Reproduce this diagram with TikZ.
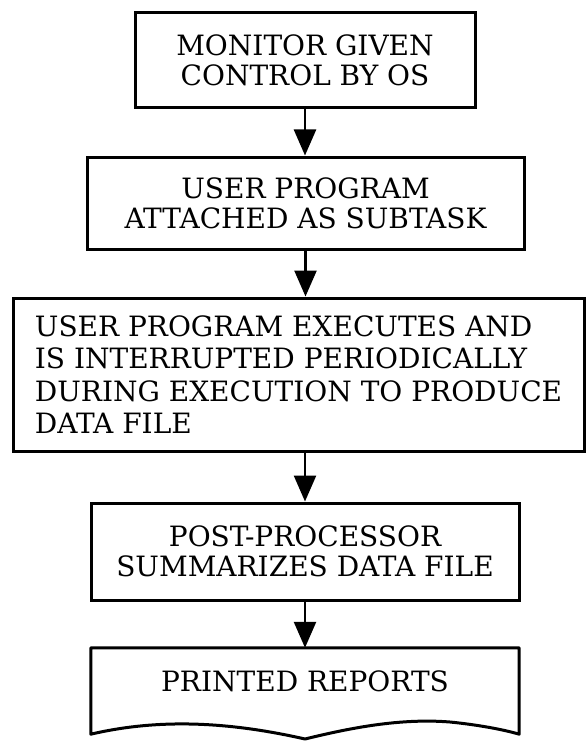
\documentclass[tikz,border=0pt]{standalone}
\usepackage{fontspec}
\setmainfont{DejaVu Serif}
\usetikzlibrary{arrows.meta}
\begin{document}
\begin{tikzpicture}[x=1pt,y=-1pt,
  txt/.style={font=\fontsize{28}{30}\selectfont},
  box/.style={draw, line width=3pt, inner sep=0pt, align=center, txt},
  arr/.style={line width=2.5pt, -{Triangle[length=26pt,width=22pt]}}]
\useasboundingbox (0,0) rectangle (586,741);
\node[box, minimum width=340pt, minimum height=95pt] (b1) at (305,60.5) {MONITOR GIVEN\\CONTROL BY OS};
\node[box, minimum width=437pt, minimum height=92pt] (b2) at (305.5,203) {USER PROGRAM\\ATTACHED AS SUBTASK};
\node[box, align=left, minimum width=571pt, minimum height=153pt, font=\fontsize{28}{32.5}\selectfont] (b3) at (298.5,374.5) {USER PROGRAM EXECUTES AND\\IS INTERRUPTED PERIODICALLY\\DURING EXECUTION TO PRODUCE\\DATA FILE};
\node[box, minimum width=428pt, minimum height=97pt] (b4) at (305,551.5) {POST-PROCESSOR\\SUMMARIZES DATA FILE};
\node[minimum width=428pt, minimum height=86pt, inner sep=0pt] (d) at (305,691) {};
\node[txt] (dt) at (305,681) {PRINTED REPORTS};
\draw[line width=3pt, line join=round] (d.south west) -- (d.north west) -- (d.north east) -- (d.south east)
  .. controls (505,730) and (480,725) .. (450,722)
  .. controls (400,718) and (350,728) .. (305,739)
  .. controls (230,722) and (160,718) .. (d.south west) -- cycle;
\draw[arr] (b1.south) -- (b1.south |- b2.north);
\draw[arr] (b2.south) -- (b2.south |- b3.north);
\draw[arr] (b3.south -| b4.north) -- (b4.north);
\draw[arr] (b4.south) -- (d.north);
\end{tikzpicture}
\end{document}
